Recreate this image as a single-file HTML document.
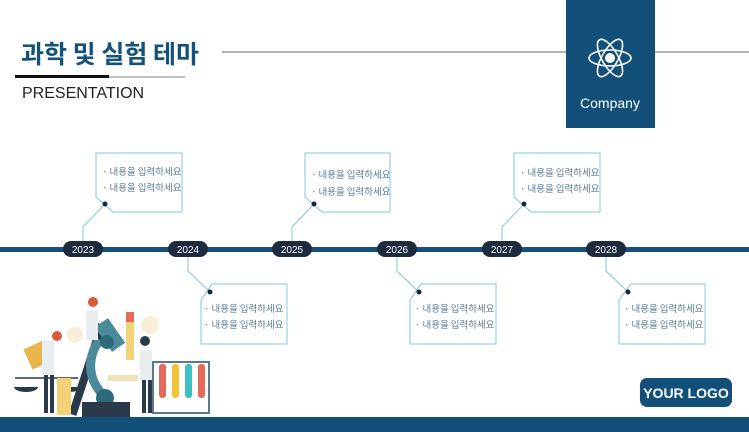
<!DOCTYPE html>
<html><head><meta charset="utf-8"><style>
html,body{margin:0;padding:0;background:#fff;}
body{width:749px;height:432px;overflow:hidden;position:relative;font-family:"Liberation Sans","Noto Sans CJK KR",sans-serif;}
svg{position:absolute;left:0;top:0;}
</style></head><body>
<svg width="749" height="432" viewBox="0 0 749 432" xmlns="http://www.w3.org/2000/svg" font-family="Liberation Sans, Noto Sans CJK KR, sans-serif">
<text x="21" y="63" font-size="25" font-weight="bold" fill="#14527a" font-family="Noto Sans CJK KR, sans-serif">과학 및 실험 테마</text>
<line x1="222" y1="52" x2="566" y2="52" stroke="#b4b4b4" stroke-width="2"/>
<line x1="655" y1="52" x2="749" y2="52" stroke="#b4b4b4" stroke-width="2"/>
<rect x="15" y="75" width="94" height="3" fill="#111"/>
<rect x="109" y="76" width="76" height="2" fill="#c0c0c0"/>
<text x="22" y="98" font-size="16" fill="#222">PRESENTATION</text>
<rect x="566" y="0" width="89" height="128" fill="#12507a"/>
<g stroke="#fff" stroke-width="1.6" fill="none" transform="translate(610,58)">
<ellipse rx="21" ry="8"/>
<ellipse rx="21" ry="8" transform="rotate(60)"/>
<ellipse rx="21" ry="8" transform="rotate(-60)"/>
</g>
<circle cx="610" cy="58" r="5" fill="#fff"/>
<text x="610" y="108" font-size="14" fill="#fff" text-anchor="middle">Company</text>
<rect x="0" y="247" width="749" height="5" fill="#17507a"/>
<g fill="none" stroke="#7ec8dc" stroke-width="1">
<polygon points="96,153 182,153 182,212 113,212 96,197"/>
<polyline points="83,241 83,227 105,204"/>
<polygon points="305,153 390,153 390,212 322,212 305,197"/>
<polyline points="292,241 292,227 314,204"/>
<polygon points="514,153 600,153 600,212 531,212 514,197"/>
<polyline points="502,241 502,227 524,204"/>
<polygon points="212,284 287,284 287,344 201,344 201,300"/>
<polyline points="188,257 188,271 210,292"/>
<polygon points="421,284 496,284 496,344 410,344 410,300"/>
<polyline points="397,257 397,271 419,292"/>
<polygon points="631,284 705,284 705,344 619,344 619,300"/>
<polyline points="606,257 606,271 628,292"/>
</g>
<g fill="#1a2638">
<circle cx="105" cy="204" r="2.5"/><circle cx="314" cy="204" r="2.5"/><circle cx="524" cy="204" r="2.5"/>
<circle cx="210" cy="292" r="2.5"/><circle cx="419" cy="292" r="2.5"/><circle cx="628" cy="292" r="2.5"/>
</g>
<g font-size="9.5" fill="#5a7c98" font-family="Noto Sans CJK KR, sans-serif">
<text x="102" y="175">· 내용을 입력하세요</text><text x="102" y="191">· 내용을 입력하세요</text>
<text x="311" y="178">· 내용을 입력하세요</text><text x="311" y="195">· 내용을 입력하세요</text>
<text x="520" y="176">· 내용을 입력하세요</text><text x="520" y="192">· 내용을 입력하세요</text>
<text x="204" y="312">· 내용을 입력하세요</text><text x="204" y="328">· 내용을 입력하세요</text>
<text x="415" y="312">· 내용을 입력하세요</text><text x="415" y="328">· 내용을 입력하세요</text>
<text x="624" y="312">· 내용을 입력하세요</text><text x="624" y="328">· 내용을 입력하세요</text>
</g>
<g fill="#1c2b3d">
<rect x="63" y="241" width="40" height="16" rx="8"/>
<rect x="168" y="241" width="40" height="16" rx="8"/>
<rect x="272" y="241" width="40" height="16" rx="8"/>
<rect x="377" y="241" width="40" height="16" rx="8"/>
<rect x="482" y="241" width="40" height="16" rx="8"/>
<rect x="586" y="241" width="40" height="16" rx="8"/>
</g>
<g font-size="10" fill="#fff" text-anchor="middle">
<text x="83" y="253">2023</text><text x="188" y="253">2024</text><text x="292" y="253">2025</text>
<text x="397" y="253">2026</text><text x="502" y="253">2027</text><text x="606" y="253">2028</text>
</g>
<g>
<circle cx="75" cy="335" r="8" fill="#f7efd8"/><circle cx="150" cy="325" r="9" fill="#f7efd8"/><circle cx="110" cy="330" r="6" fill="#f7efd8"/>
<line x1="15" y1="378" x2="78" y2="378" stroke="#2a3a4a" stroke-width="1.5"/>
<path d="M14,387 a12,5 0 0 0 24,0 z" fill="#2a3a4a"/>
<path d="M57,387 a12,5 0 0 0 24,0 z" fill="#2a3a4a"/>
<rect x="83" y="322" width="8" height="95" fill="#2a3a4a" transform="rotate(18 87 370)"/>
<path d="M100,340 a40,40 0 0 0 10,60" stroke="#4b8a9a" stroke-width="9" fill="none"/>
<rect x="102" y="320" width="16" height="30" fill="#4b8a9a" transform="rotate(-35 110 335)"/>
<circle cx="107" cy="342" r="7" fill="#2d6b7a"/>
<circle cx="105" cy="398" r="9" fill="#2d6b7a"/>
<rect x="82" y="402" width="48" height="15" fill="#2a3a4a"/>
<rect x="108" y="375" width="30" height="6" fill="#f0e2b8"/>
<rect x="27" y="344" width="22" height="22" fill="#e8b54a" transform="rotate(-25 38 355)"/>
<rect x="57" y="378" width="14" height="37" fill="#f3d27a"/>
<rect x="42" y="340" width="12" height="35" fill="#e8eef0"/>
<rect x="44" y="375" width="4" height="38" fill="#2a3a4a"/><rect x="50" y="375" width="4" height="38" fill="#2a3a4a"/>
<circle cx="57" cy="336" r="5" fill="#d95b3a"/>
<rect x="86" y="310" width="12" height="30" fill="#e8eef0"/>
<circle cx="93" cy="302" r="5" fill="#d95b3a"/>
<rect x="126" y="318" width="8" height="42" fill="#f3d27a"/>
<rect x="126" y="312" width="8" height="10" fill="#e46a5a"/>
<rect x="140" y="350" width="12" height="30" fill="#e8eef0"/>
<rect x="142" y="380" width="4" height="33" fill="#2a3a4a"/><rect x="148" y="380" width="4" height="33" fill="#2a3a4a"/>
<circle cx="145" cy="341" r="5" fill="#2a3a4a"/>
<rect x="153" y="362" width="56" height="51" fill="none" stroke="#5a7a8a" stroke-width="2"/>
<rect x="159" y="364" width="7" height="34" rx="3" fill="#e46a5a"/>
<rect x="172" y="364" width="7" height="34" rx="3" fill="#f0c53a"/>
<rect x="185" y="364" width="7" height="34" rx="3" fill="#3cc1c0"/>
<rect x="198" y="364" width="7" height="34" rx="3" fill="#e46a5a"/>
</g>
<rect x="640" y="378" width="92" height="29" rx="7" fill="#12507a"/>
<text x="686" y="398" font-size="14" font-weight="bold" fill="#fff" text-anchor="middle">YOUR LOGO</text>
<rect x="0" y="417" width="749" height="15" fill="#12507a"/>
</svg>
</body></html>
